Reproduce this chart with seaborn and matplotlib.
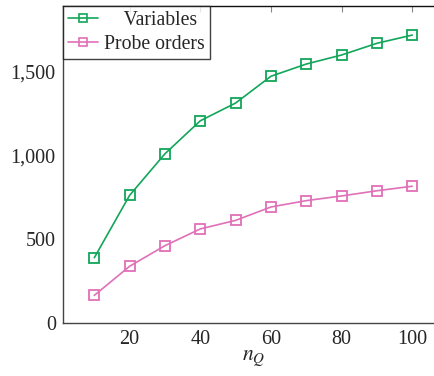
import matplotlib
matplotlib.use("Agg")
import matplotlib.pyplot as plt
import matplotlib.ticker as mticker
from matplotlib.lines import Line2D
import pandas as pd
import seaborn as sns

n_q = [10, 20, 30, 40, 50, 60, 70, 80, 90, 100]
variables = [390, 763, 1011, 1208, 1314, 1474, 1547, 1601, 1671, 1720]
probe_orders = [165, 339, 462, 562, 613, 693, 731, 759, 790, 817]
series_names = ["Variables", "Probe orders"]
x_ticks = [20, 40, 60, 80, 100]
y_ticks = [0, 500, 1000, 1500]

green = "#12a65a"
pink = "#e070b8"

sns.set_theme(style="white")
plt.rcParams["font.family"] = ["Liberation Serif", "DejaVu Serif"]
plt.rcParams["mathtext.fontset"] = "stix"

df = pd.DataFrame({
    "n_Q": n_q * 2,
    "value": variables + probe_orders,
    "series": [series_names[0]] * len(n_q) + [series_names[1]] * len(n_q),
})

fig = plt.figure(figsize=(4.35, 3.76), dpi=100)
ax = fig.add_axes([62.7 / 435, 1 - 323 / 376, (444 - 62.7) / 435, (323 - 6.3) / 376])

sns.lineplot(
    data=df, x="n_Q", y="value", hue="series", style="series",
    palette={series_names[0]: green, series_names[1]: pink},
    markers={series_names[0]: "s", series_names[1]: "s"},
    dashes=False, markersize=6.5, markerfacecolor="none", markeredgewidth=1.3,
    linewidth=1.2, ax=ax, legend=False,
)
for line, c in zip(ax.lines, [green, pink]):
    line.set_markeredgecolor(c)
    line.set_markerfacecolor("none")

ax.set_xlim(1.05, 109)
ax.set_ylim(0, 1892)
ax.set_xticks(x_ticks)
ax.set_yticks(y_ticks)
ax.yaxis.set_major_formatter(mticker.FuncFormatter(lambda v, p: f"{int(v):,}"))
ax.tick_params(axis="both", direction="in", length=4, width=0.8, color="#888888",
               labelsize=14.5, top=True, right=True, pad=5)
for s in ax.spines.values():
    s.set_color("#444444")
    s.set_linewidth(1.0)
ax.spines["top"].set_color("#111111")
ax.set_xlabel("$n_Q$", fontsize=15.5, labelpad=0)
ax.set_ylabel("")

handles = [
    Line2D([], [], color=green, marker="s", markersize=5.5, markerfacecolor="none",
           markeredgecolor=green, markeredgewidth=1.2, linewidth=1.2),
    Line2D([], [], color=pink, marker="s", markersize=5.5, markerfacecolor="none",
           markeredgecolor=pink, markeredgewidth=1.2, linewidth=1.2),
]
leg = ax.legend(handles, ["    " + series_names[0], series_names[1]],
                loc="upper left", bbox_to_anchor=(0, 1), borderaxespad=0,
                frameon=True, fancybox=False, fontsize=14.2, handlelength=1.55,
                handletextpad=0.3, borderpad=0.25, labelspacing=0.22)
leg.get_frame().set_edgecolor("#111111")
leg.get_frame().set_linewidth(1.0)

fig.savefig("out.png", dpi=100)
